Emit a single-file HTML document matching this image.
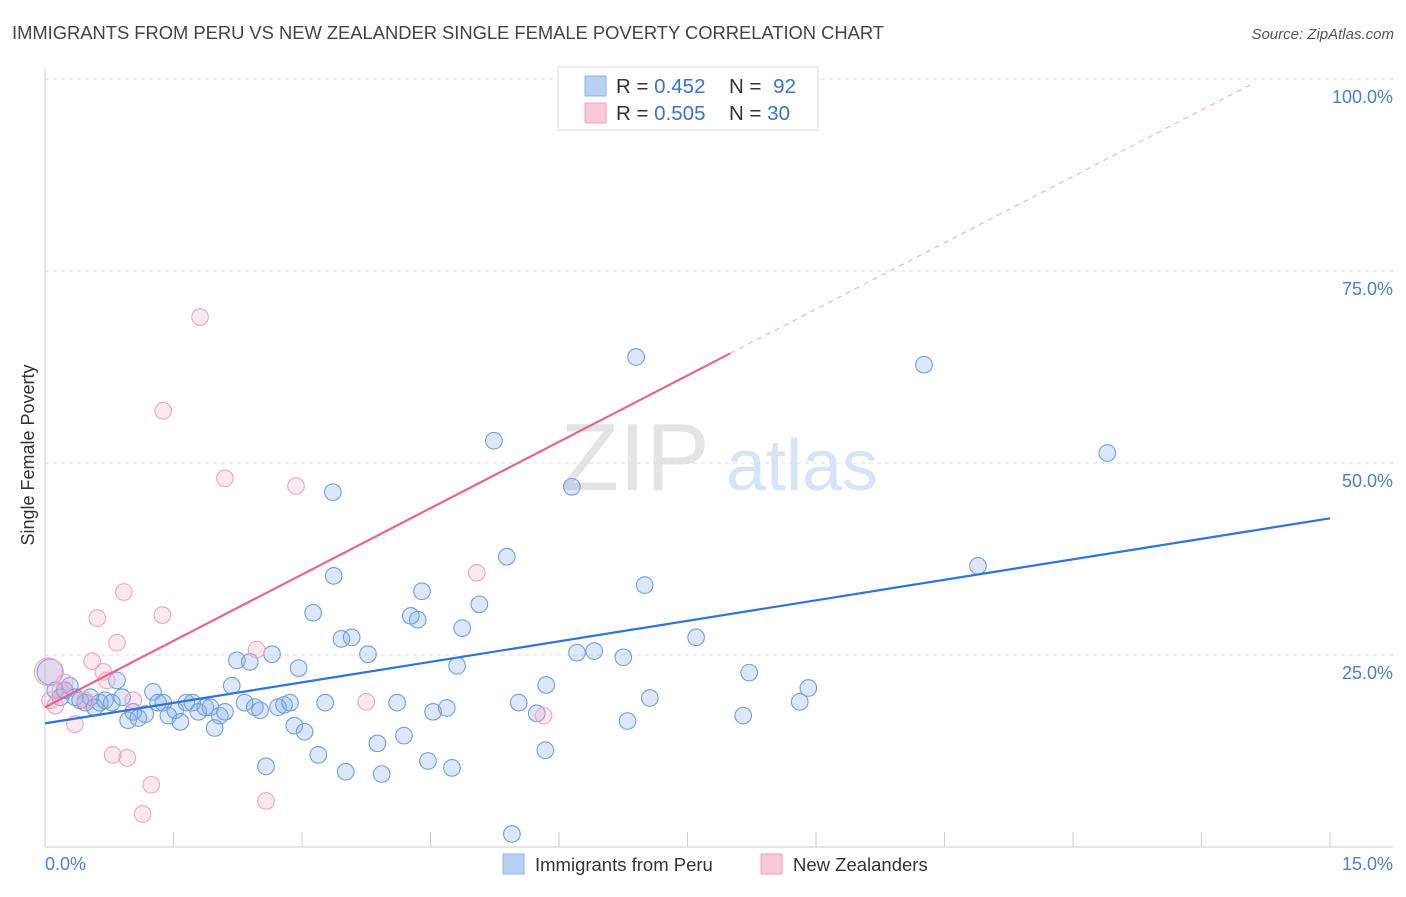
<!DOCTYPE html>
<html><head><meta charset="utf-8"><style>
body{margin:0;background:#fff;font-family:"Liberation Sans",sans-serif;}
svg text{font-family:"Liberation Sans",sans-serif;}
</style></head><body>
<svg id="chart" width="1406" height="892" xmlns="http://www.w3.org/2000/svg">
<text x="12" y="39" font-size="18.4" fill="#444" textLength="872">IMMIGRANTS FROM PERU VS NEW ZEALANDER SINGLE FEMALE POVERTY CORRELATION CHART</text>
<text x="1394" y="39" font-size="15" fill="#555" font-style="italic" text-anchor="end">Source: ZipAtlas.com</text>
<g>
<text x="635" y="490" font-size="96" fill="#e4e4e4" font-family="Liberation Serif,serif" text-anchor="middle">ZIP</text>
<text x="802" y="490" font-size="72" fill="#d6e4f6" text-anchor="middle">atlas</text>
</g>
<g id="grid"></g>
<g id="axes"></g>
<g id="marks"></g>
<text transform="translate(34,455) rotate(-90)" font-size="18" fill="#333" text-anchor="middle">Single Female Poverty</text>
<text x="45" y="870" font-size="18" fill="#4a7fd4">0.0%</text>
<text x="1393" y="870" font-size="18" fill="#4a7fd4" text-anchor="end">15.0%</text>
<g>
<rect x="558" y="67" width="260" height="63" fill="#fff" stroke="#ddd"/>
<rect x="585" y="76" width="21" height="20" fill="#b8d0f4" stroke="#8fb2ea"/>
<rect x="585" y="103" width="21" height="20" fill="#f9c9d7" stroke="#f0a5bd"/>
<text x="616" y="93" font-size="20.5" fill="#333">R = <tspan fill="#3a72d0">0.452</tspan></text>
<text x="729" y="93" font-size="20.5" fill="#333">N = <tspan fill="#3a72d0" dx="6">92</tspan></text>
<text x="616" y="120" font-size="20.5" fill="#333">R = <tspan fill="#3a72d0">0.505</tspan></text>
<text x="729" y="120" font-size="20.5" fill="#333">N = <tspan fill="#3a72d0">30</tspan></text>
</g>
<g>
<rect x="503" y="854" width="21" height="20" fill="#b8d0f4" stroke="#8fb2ea"/>
<text x="535" y="871" font-size="18.5" fill="#333">Immigrants from Peru</text>
<rect x="761" y="854" width="21" height="20" fill="#f9c9d7" stroke="#f0a5bd"/>
<text x="793" y="871" font-size="18.5" fill="#333">New Zealanders</text>
</g>
</svg>
<script>
const yTicks=[25,50,75,100];
const yTickLabels=["25.0%","50.0%","75.0%","100.0%"];
const xTicks=[0,1.5,3,4.5,6,7.5,9,10.5,12,13.5,15];
const peruX=[0.06,0.12,0.18,0.23,0.29,0.35,0.41,0.47,0.53,0.58,0.64,0.70,0.78,0.84,0.90,0.97,1.03,1.09,1.17,1.26,1.32,1.38,1.44,1.52,1.58,1.65,1.72,1.79,1.87,1.93,1.98,2.04,2.10,2.18,2.24,2.33,2.39,2.45,2.51,2.58,2.65,2.72,2.79,2.86,2.91,2.96,3.03,3.13,3.19,3.27,3.36,3.37,3.46,3.51,3.58,3.77,3.88,3.93,4.11,4.19,4.27,4.35,4.40,4.47,4.53,4.69,4.75,4.81,4.87,5.07,5.24,5.39,5.45,5.53,5.74,5.84,5.85,6.15,6.21,6.41,6.75,6.80,6.90,7.00,7.06,7.60,8.15,8.22,8.81,8.91,10.26,10.89,12.40];
const peruY=[22.8,20.4,19.5,20.4,21.0,19.5,19.1,18.8,19.5,18.2,18.8,19.1,18.8,21.7,19.5,16.5,17.6,16.8,17.3,20.2,18.8,18.8,17.1,17.8,16.3,18.8,18.8,17.6,18.2,18.2,15.5,17.1,17.6,21.0,24.3,18.8,24.1,18.2,17.8,10.5,25.1,18.2,18.5,18.8,15.8,23.3,15.0,30.5,12.0,18.8,46.2,35.3,27.1,9.8,27.3,25.1,13.5,9.5,18.8,14.5,30.1,29.6,33.3,11.2,17.6,18.1,10.3,23.6,28.5,31.6,52.9,37.8,1.7,18.8,17.4,12.6,21.1,46.9,25.3,25.5,24.7,16.4,63.8,34.1,19.4,27.3,17.1,22.7,18.9,20.7,62.8,36.6,51.3];
const nzX=[0.04,0.06,0.12,0.18,0.23,0.35,0.47,0.55,0.61,0.68,0.72,0.79,0.84,0.92,0.96,1.03,1.14,1.24,1.37,1.38,1.81,2.10,2.47,2.58,2.93,3.75,5.04,5.82,6.97];
const nzY=[22.8,19.1,18.4,20.4,21.4,16.0,19.1,24.2,29.8,22.8,21.7,12.0,26.6,33.2,11.6,19.1,4.3,8.1,30.2,56.8,69.0,48.0,25.7,6.0,47.0,18.9,35.7,17.1,99.9];
const peruTrend=[16.1,42.8];
const nzTrend=[18.2,5.76];
const NS="http://www.w3.org/2000/svg";
const sx=v=>45+v*85.67, sy=v=>847-v*7.68;
function mk(tag,attrs,parent){const e=document.createElementNS(NS,tag);for(const k in attrs)e.setAttribute(k,attrs[k]);document.getElementById(parent).appendChild(e);return e;}
yTicks.forEach((t,i)=>{
 const l=mk('line',{x1:45,x2:1393,y1:sy(t),y2:sy(t),stroke:'#ddd','stroke-dasharray':'4,4'},'grid');
 
 
 const tx=mk('text',{x:1393,y:sy(t)+24,'font-size':18,fill:'#4a7fd4','text-anchor':'end'},'grid');
 tx.textContent=yTickLabels[i];
 
 
});
let a=mk('line',{x1:45,x2:1393,y1:847,y2:847,stroke:'#ccc'},'axes');


a=mk('line',{x1:45,x2:45,y1:68,y2:847,stroke:'#ccc'},'axes');


xTicks.forEach(t=>{const l=mk('line',{x1:sx(t),x2:sx(t),y1:832,y2:847,stroke:'#ccc'},'axes');
 
 });
peruX.forEach((x,i)=>{const c=mk('circle',{cx:sx(x),cy:sy(peruY[i]),r:i==0?13:8.3,fill:'rgba(130,172,238,0.28)',stroke:'#6f9fe0','stroke-width':1.1},'marks');
 
 });
nzX.forEach((x,i)=>{const c=mk('circle',{cx:sx(x),cy:sy(nzY[i]),r:i==0?14:8.3,fill:'rgba(245,165,195,0.25)',stroke:'#f0a5bd','stroke-width':1.1},'marks');
 
 });
let t=mk('line',{x1:sx(0),y1:sy(peruTrend[0]),x2:sx(15),y2:sy(peruTrend[1]),stroke:'#2f74d8','stroke-width':2.2},'marks');


const nzEnd=8.0, nzDash=14.12;
t=mk('line',{x1:sx(0),y1:sy(nzTrend[0]),x2:sx(nzEnd),y2:sy(nzTrend[0]+nzTrend[1]*nzEnd),stroke:'#e8648f','stroke-width':2.2},'marks');


t=mk('line',{x1:sx(nzEnd),y1:sy(nzTrend[0]+nzTrend[1]*nzEnd),x2:sx(nzDash),y2:sy(nzTrend[0]+nzTrend[1]*nzDash),stroke:'#f0a5bd','stroke-width':1,'stroke-dasharray':'5,5'},'marks');


</script>
</body></html>
